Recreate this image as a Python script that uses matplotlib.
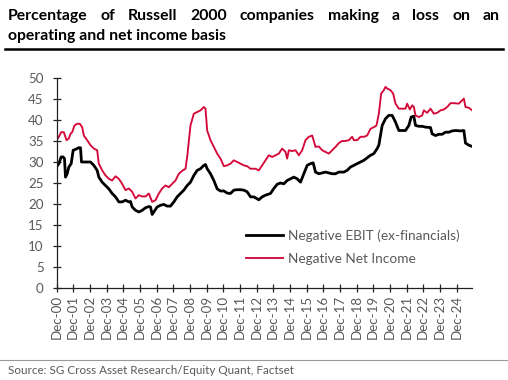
import matplotlib
matplotlib.use("Agg")
import matplotlib.pyplot as plt
from matplotlib.lines import Line2D

plt.rcParams['font.family'] = ['Lato', 'DejaVu Sans']

# years since Dec-2000
ebit_t = [0.00, 0.14, 0.28, 0.40, 0.48, 0.54, 0.64, 0.74, 0.88, 1.00, 1.14, 1.34, 1.44, 1.50, 1.74,
          2.04, 2.24, 2.44, 2.54, 2.74, 2.94, 3.14, 3.34, 3.54, 3.74, 3.94, 4.14, 4.34, 4.44, 4.54,
          4.74, 4.94, 5.14, 5.34, 5.54, 5.64, 5.74, 5.84, 6.04, 6.24, 6.44, 6.64, 6.84, 7.04, 7.24,
          7.44, 7.64, 7.84, 8.04, 8.24, 8.44, 8.64, 8.84, 8.94, 9.04, 9.24, 9.44, 9.64, 9.84, 10.04,
          10.24, 10.44, 10.64, 10.84, 11.04, 11.24, 11.44,
          11.64, 11.84, 12.14, 12.34, 12.54, 12.84, 13.04, 13.24, 13.44, 13.64, 13.84, 14.04, 14.24,
          14.44, 14.64, 14.84, 15.04, 15.24, 15.40, 15.54, 15.74, 15.94, 16.14, 16.34, 16.54, 16.74,
          16.94, 17.24, 17.44, 17.64, 17.84, 18.04, 18.24, 18.44, 18.64, 18.84, 19.04, 19.24, 19.34,
          19.44, 19.54, 19.74, 19.94, 20.14, 20.34, 20.54, 20.74, 20.94, 21.14, 21.28, 21.44, 21.54,
          21.74, 21.94, 22.14, 22.44, 22.54, 22.74, 22.94, 23.14, 23.34, 23.54, 23.74, 23.94, 24.24,
          24.44, 24.54, 24.74, 24.94]
ebit_v = [28.8, 29.6, 31.2, 31.2, 30.8, 26.4, 27.2, 28.8, 29.6, 32.8, 33.0, 33.4, 33.4, 30.0, 30.0,
          30.0, 29.2, 28.0, 26.4, 25.2, 24.4, 23.6, 22.5, 21.7, 20.5, 20.5, 20.9, 20.5, 20.6, 19.3,
          18.5, 18.1, 18.5, 19.1, 19.4, 19.3, 17.5, 18.1, 19.3, 19.7, 19.9, 19.5, 19.5, 20.5, 21.7,
          22.5, 23.3, 24.4, 25.2, 26.8, 28.0, 28.4, 29.2, 29.4, 28.4, 27.2, 25.6, 23.6, 23.1, 23.1,
          22.6, 22.5, 23.3, 23.4, 23.4, 23.3, 22.9,
          21.7, 21.7, 21.0, 21.7, 22.1, 22.5, 23.7, 24.7, 25.0, 24.8, 25.6, 26.0, 26.4,
          26.0, 25.2, 27.2, 29.2, 29.6, 29.8, 27.6, 27.2, 27.4, 27.6, 27.4, 27.2, 27.2,
          27.6, 27.6, 28.0, 28.8, 29.2, 29.6, 30.0, 30.4, 31.0, 31.6, 32.0, 33.2, 34.0,
          36.3, 38.7, 40.3, 41.1, 41.1, 39.5, 37.5, 37.5, 37.5, 38.7, 40.7, 40.9, 38.7,
          38.5, 38.5, 38.3, 38.2, 36.7, 36.3, 36.6, 36.6, 37.1, 37.1, 37.4, 37.5, 37.4,
          37.5, 34.5, 34.0, 33.7]

net_t = [0.00, 0.14, 0.28, 0.44, 0.60, 0.74, 0.84, 0.94, 1.08, 1.24, 1.40, 1.54, 1.64, 1.84, 2.04,
         2.24, 2.44, 2.54, 2.74, 2.94, 3.14, 3.34, 3.54, 3.74, 3.94, 4.14, 4.34, 4.54, 4.74, 4.94,
         5.14, 5.34, 5.54, 5.74, 5.94, 6.14, 6.34, 6.54, 6.74, 6.94, 7.14, 7.34, 7.54, 7.74, 7.84,
         8.04, 8.24, 8.44, 8.64, 8.84, 8.94, 9.04, 9.24, 9.44, 9.64, 9.84, 10.04, 10.24, 10.44, 10.64,
         10.84, 11.04, 11.24, 11.44,
         11.64, 11.94, 12.14, 12.34, 12.54, 12.74, 12.94, 13.14, 13.34, 13.54, 13.74, 13.84, 13.94,
         14.14, 14.34, 14.54, 14.74, 14.94, 15.14, 15.34, 15.54, 15.74, 15.94, 16.14, 16.34, 16.54,
         16.74, 16.94, 17.14, 17.34, 17.54, 17.74, 17.84, 18.04, 18.24, 18.44, 18.64, 18.84, 19.04,
         19.20, 19.34, 19.48, 19.64, 19.74, 19.84, 20.04, 20.20, 20.34, 20.54, 20.74, 20.94, 21.04,
         21.20, 21.34, 21.44, 21.54, 21.74, 21.94, 22.04, 22.24, 22.44, 22.64, 22.84, 23.04, 23.24,
         23.44, 23.64, 23.84, 24.14, 24.34, 24.44, 24.54, 24.74, 24.94]
net_v = [35.2, 36.0, 37.1, 37.1, 35.2, 35.6, 36.7, 37.1, 38.7, 39.1, 39.1, 38.3, 36.3, 35.2, 34.0,
         33.2, 32.8, 29.6, 28.0, 26.8, 26.0, 25.6, 26.6, 26.0, 24.8, 23.3, 23.7, 22.9, 21.3, 22.1,
         21.8, 21.8, 22.5, 20.5, 20.9, 22.5, 23.7, 24.4, 24.0, 24.8, 25.6, 27.2, 27.9, 28.4, 31.2,
         38.7, 41.5, 41.9, 42.3, 43.1, 42.7, 37.5, 35.2, 33.6, 32.0, 30.8, 29.0, 29.2, 29.6, 30.4,
         30.0, 29.6, 29.2, 29.0,
         28.4, 28.4, 28.0, 29.2, 30.4, 31.6, 31.2, 31.6, 32.0, 33.2, 32.4, 30.8, 32.8,
         32.6, 32.8, 31.6, 32.8, 35.2, 36.0, 36.3, 33.6, 33.7, 32.8, 32.4, 32.0, 32.8,
         33.6, 34.5, 35.0, 35.0, 35.2, 36.0, 35.2, 35.2, 36.0, 36.0, 36.3, 37.9, 38.3,
         38.7, 41.5, 46.3, 47.1, 47.9, 47.5, 47.1, 46.3, 43.9, 42.7, 42.7, 42.7, 43.9,
         42.5, 43.5, 43.1, 41.1, 40.7, 41.1, 42.3, 41.7, 42.7, 41.5, 41.7, 42.3, 42.5,
         43.1, 44.0, 44.0, 43.9, 44.7, 45.1, 43.1, 42.9, 42.3]

tick_labels = ["Dec-%02d" % y for y in range(0, 25)]
series_names = ["Negative EBIT (ex-financials)", "Negative Net Income"]
title_line1 = "Percentage of Russell 2000 companies making a loss on an"
title_line2 = "operating and net income basis"
source = "Source: SG Cross Asset Research/Equity Quant, Factset"

W, H = 508, 380
fig = plt.figure(figsize=(W / 100, H / 100), dpi=100)
ax = fig.add_axes([56.5 / W, 1 - 288 / H, (472 - 56.5) / W, (288 - 78) / H])

red = '#D5083A'
ax.plot(ebit_t, ebit_v, color='black', lw=2.0, solid_joinstyle='round', label=series_names[0])
ax.plot(net_t, net_v, color=red, lw=1.35, solid_joinstyle='round', label=series_names[1])

ax.set_xlim(0, 24.93)
ax.set_ylim(0, 50)
ax.set_yticks(range(0, 51, 5))
ax.set_xticks(range(0, 25))
ax.set_xticklabels(tick_labels, rotation=90)
for s in ['top', 'right']:
    ax.spines[s].set_visible(False)
for s in ['left', 'bottom']:
    ax.spines[s].set_color('#222222')
    ax.spines[s].set_linewidth(0.9)
ax.tick_params(direction='inout', length=5.5, width=0.9, color='#222222',
               labelcolor='#595959', labelsize=9.6, pad=2)
ax.tick_params(axis='y', pad=6.5)

ax.legend(loc='upper left', bbox_to_anchor=(246 / W, 1 - 229 / H), bbox_transform=fig.transFigure,
          frameon=False, fontsize=9.8, labelcolor='#595959', handlelength=2.7,
          handletextpad=0.35, labelspacing=0.82, borderaxespad=0, borderpad=0)

# justified first title line
fs_title = 11.3
renderer = fig.canvas.get_renderer()
words = title_line1.split(" ")
x_left, x_right = 8, 500
texts = []
widths = []
for w in words:
    t = fig.text(0, 1 - 16 / H, w, fontsize=fs_title, fontweight='bold', va='center', ha='left')
    widths.append(t.get_window_extent(renderer).width)
    texts.append(t)
gap = (x_right - x_left - sum(widths)) / (len(words) - 1)
x = x_left
for t, wd in zip(texts, widths):
    t.set_x(x / W)
    x += wd + gap

fig.text(8 / W, 1 - 36 / H, title_line2,
         fontsize=fs_title, fontweight='bold', va='center', ha='left', color='black')
fig.add_artist(Line2D([5 / W, 503 / W], [1 - 49 / H, 1 - 49 / H], color='black', lw=1.8))
fig.add_artist(Line2D([0, 1], [1 - 360 / H, 1 - 360 / H], color='#999999', lw=0.8))
fig.text(8 / W, 1 - 370 / H, source,
         fontsize=8.4, va='center', ha='left', color='#595959')

fig.savefig("out.png", dpi=100)
